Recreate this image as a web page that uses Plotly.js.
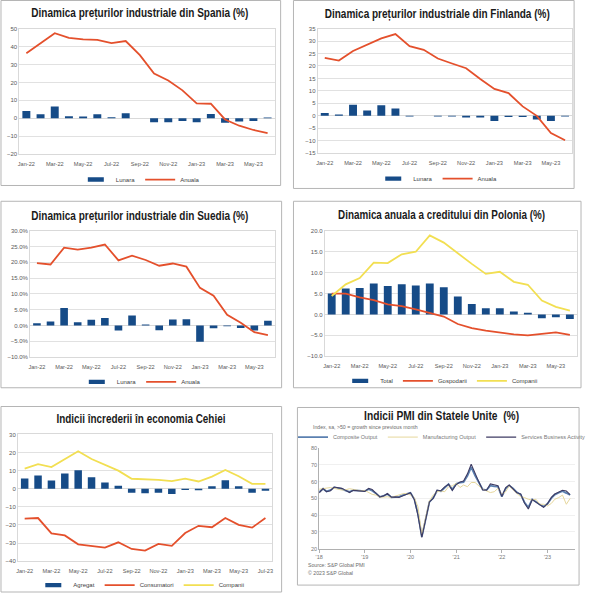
<!DOCTYPE html>
<html>
<head>
<meta charset="utf-8">
<script src="https://cdn.plot.ly/plotly-3.0.1.min.js"></script>
<style>
  html, body { margin: 0; padding: 0; background: #fff; }
  #chart { width: 590px; height: 600px; }
</style>
</head>
<body>
<div id="chart"></div>
<script>
// months for the first four panels
var months = ['Jan-22','Feb-22','Mar-22','Apr-22','May-22','Jun-22','Jul-22','Aug-22','Sep-22',
              'Oct-22','Nov-22','Dec-22','Jan-23','Feb-23','Mar-23','Apr-23','May-23','Jun-23'];
var monthsCz = ['Jan-22','Feb-22','Mar-22','Apr-22','May-22','Jun-22','Jul-22','Aug-22','Sep-22',
                'Oct-22','Nov-22','Dec-22','Jan-23','Feb-23','Mar-23','Apr-23','May-23','Jun-23','Jul-23'];

// Spania
var spainMonthly = [4.0, 2.2, 6.6, 1.1, 0.9, 2.2, 0.5, 2.8, 0.0, -2.2, -2.2, -1.5, -2.2, 2.4, -2.6, -1.8, -1.5, 0.4];
var spainAnnual  = [36.4, 41.9, 47.6, 45.0, 44.1, 43.9, 42.1, 43.2, 35.3, 25.0, 21.1, 15.6, 8.3, 8.1, -0.7, -4.2, -6.6, -8.3];

// Finlanda
var finlandMonthly = [1.1, 0.5, 4.5, 2.1, 4.2, 2.9, -0.3, 0.0, -0.3, -0.3, -0.7, -0.7, -2.1, -0.5, -0.5, -1.5, -2.1, -0.3];
var finlandAnnual  = [23.3, 22.2, 26.0, 28.7, 31.1, 32.8, 28.0, 26.5, 23.0, 21.0, 19.1, 14.8, 10.8, 9.1, 3.8, 0.0, -6.9, -9.8];

// Suedia (%)
var swedenMonthly = [0.7, 1.25, 5.5, 1.0, 1.8, 2.4, -1.6, 3.2, 0.3, -1.5, 1.9, 2.0, -5.1, -0.9, -0.2, -0.8, -1.6, 1.5];
var swedenAnnual  = [19.7, 19.3, 24.6, 24.0, 24.6, 25.6, 20.6, 22.1, 20.7, 18.9, 19.6, 18.6, 11.9, 9.4, 3.4, 0.9, -2.1, -3.0];

// Polonia
var polandTotal      = [5.0, 6.2, 6.3, 7.4, 6.8, 7.2, 6.9, 7.4, 6.5, 4.3, 2.5, 1.5, 1.5, 0.7, 0.4, -0.9, -0.7, -1.1];
var polandHouseholds = [5.0, 5.0, 4.1, 3.4, 2.4, 2.0, 1.2, 0.4, -0.5, -2.3, -3.3, -3.9, -4.4, -4.8, -5.0, -4.7, -4.3, -4.9];
var polandCompanies  = [4.4, 7.2, 8.7, 12.4, 12.3, 14.4, 15.0, 18.9, 17.2, 14.6, 12.1, 9.7, 10.2, 7.8, 7.1, 3.3, 1.8, 0.9];

// Cehia
var czechAggregate = [5.6, 7.3, 4.5, 8.4, 10.2, 6.4, 3.5, 1.6, -2.2, -2.5, -2.2, -2.9, -0.7, -0.9, 1.3, 4.7, 1.3, -2.2, -1.1];
var czechConsumers = [-16.5, -16.2, -24.7, -25.8, -30.7, -31.5, -32.5, -29.6, -33.3, -34.2, -30.5, -31.6, -24.5, -20.5, -21.3, -16.2, -20.0, -21.5, -16.2];
var czechCompanies = [11.1, 13.6, 12.0, 16.4, 20.7, 16.4, 13.1, 10.0, 5.5, 5.3, 4.9, 4.2, 5.6, 4.0, 6.7, 10.4, 6.9, 2.7, 2.7];

// PMI Statele Unite
var pmiMonths = [
  '2018-01','2018-02','2018-03','2018-04','2018-05','2018-06','2018-07','2018-08','2018-09','2018-10','2018-11','2018-12',
  '2019-01','2019-02','2019-03','2019-04','2019-05','2019-06','2019-07','2019-08','2019-09','2019-10','2019-11','2019-12',
  '2020-01','2020-02','2020-03','2020-04','2020-05','2020-06','2020-07','2020-08','2020-09','2020-10','2020-11','2020-12',
  '2021-01','2021-02','2021-03','2021-04','2021-05','2021-06','2021-07','2021-08','2021-09','2021-10','2021-11','2021-12',
  '2022-01','2022-02','2022-03','2022-04','2022-05','2022-06','2022-07','2022-08','2022-09','2022-10','2022-11','2022-12',
  '2023-01','2023-02','2023-03','2023-04','2023-05','2023-06','2023-07'];
var pmiComposite = [
  53.8, 55.8, 54.2, 54.9, 56.6, 56.2, 55.7, 54.7, 53.9, 54.9, 54.7, 54.4,
  54.4, 55.5, 54.6, 53.0, 50.9, 51.5, 52.6, 50.7, 51.0, 50.9, 52.0, 52.7,
  53.3, 49.6, 40.9, 27.0, 37.0, 47.9, 50.3, 54.6, 54.3, 56.3, 58.6, 55.3,
  58.7, 59.5, 59.7, 63.5, 68.7, 63.7, 59.9, 55.4, 55.0, 57.6, 57.2, 57.0,
  51.1, 55.9, 57.7, 56.0, 53.6, 52.3, 47.7, 44.6, 49.5, 48.2, 46.4, 45.0,
  46.8, 50.1, 52.3, 53.4, 54.3, 53.2, 52.0];
var pmiManufacturing = [
  55.5, 56.0, 56.2, 56.5, 56.0, 55.4, 55.0, 55.2, 55.8, 55.4, 55.0, 54.5,
  54.8, 53.5, 52.4, 52.0, 50.8, 50.8, 51.0, 50.6, 51.5, 52.0, 52.8, 53.0,
  52.0, 50.5, 45.0, 28.5, 37.5, 48.5, 52.0, 54.0, 54.5, 54.0, 57.0, 57.5,
  59.0, 56.5, 58.0, 57.0, 59.5, 59.5, 57.5, 55.5, 54.5, 53.5, 54.0, 56.0,
  52.5, 54.0, 57.5, 55.0, 53.0, 51.0, 50.5, 49.5, 49.0, 49.5, 46.5, 46.5,
  45.5, 47.0, 49.5, 50.5, 52.0, 46.5, 50.0];
var pmiServices = [
  53.3, 55.9, 54.0, 54.6, 56.8, 56.5, 56.0, 54.8, 53.5, 54.8, 54.7, 54.4,
  54.2, 56.0, 55.3, 53.0, 50.9, 51.5, 53.0, 50.7, 50.9, 50.6, 51.6, 52.8,
  53.4, 49.4, 39.8, 26.7, 37.5, 47.9, 50.0, 55.0, 54.6, 56.9, 58.4, 54.8,
  58.3, 59.8, 60.4, 64.7, 70.4, 64.6, 59.9, 55.1, 54.9, 58.7, 58.0, 57.6,
  51.2, 56.5, 58.0, 55.6, 53.4, 52.7, 47.3, 43.7, 49.3, 47.8, 46.2, 44.7,
  46.8, 50.6, 52.6, 53.6, 54.9, 54.4, 52.3];

var W = 590, H = 600;
function px(x) { return x / W; }
function py(y) { return 1 - y / H; }
function positions(labels) { return labels.map(function (m, i) { return i; }); }

var BLUE = '#164b87', RED = '#e4502c', YELLOW = '#f2df52';
var FONT = 'Liberation Sans, Arial, sans-serif';
var TITLE_FONT = {family: 'Liberation Sans, Arial, sans-serif', weight: 'bold', size: 13, color: '#1a1a1a'};
// the reference titles are set in a tight condensed face: squeeze to these widths
var titleWidths = [217, 225, 217, 207, 169, 155];

// month axis: one slot per month, a label every second month
function monthX(labels, left, right, anchor) {
  var pos = positions(labels);
  return {
    type: 'linear', domain: [px(left), px(right)], range: [-0.5, labels.length - 0.5], anchor: anchor,
    tickmode: 'array',
    tickvals: pos.filter(function (p) { return p % 2 === 0; }),
    ticktext: labels.filter(function (m, i) { return i % 2 === 0; }),
    ticks: '', ticklabelstandoff: 4, showgrid: false, zeroline: false,
    showline: true, mirror: true, linecolor: '#d9d9d9', linewidth: 1,
    tickfont: {family: FONT, size: 5.6, color: '#595959'}, fixedrange: true
  };
}
function valY(top, bottom, r, dt, extra) {
  var a = {
    domain: [py(bottom), py(top)], range: r, dtick: dt, tick0: r[0],
    showgrid: true, gridcolor: '#d9d9d9', gridwidth: 0.8,
    zeroline: true, zerolinecolor: '#d9d9d9', zerolinewidth: 1,
    showline: true, mirror: true, linecolor: '#d9d9d9', linewidth: 1,
    ticks: '', tickfont: {family: FONT, size: 6, color: '#595959'}, fixedrange: true
  };
  for (var k in extra) a[k] = extra[k];
  return a;
}
function leg(cx, cy) {
  return {
    x: px(cx), y: py(cy), xanchor: 'center', yanchor: 'middle', orientation: 'h',
    font: {family: FONT, size: 6, color: '#404040'}, bgcolor: 'rgba(0,0,0,0)',
    itemwidth: 30, tracegroupgap: 0
  };
}
function bar(labels, y, name, n) {
  return {type: 'bar', x: positions(labels), y: y, name: name, marker: {color: BLUE},
          xaxis: 'x' + n, yaxis: 'y' + n, legend: 'legend' + n, hoverinfo: 'skip'};
}
function line(x, y, name, color, n, w) {
  return {type: 'scatter', mode: 'lines', x: x, y: y, name: name,
          line: {color: color, width: w || 1.8},
          xaxis: 'x' + n, yaxis: 'y' + n, legend: 'legend' + n, hoverinfo: 'skip'};
}

var data = [
  bar(months, spainMonthly, 'Lunara', ''),
  line(positions(months), spainAnnual, 'Anuala', RED, ''),
  bar(months, finlandMonthly, 'Lunara', 2),
  line(positions(months), finlandAnnual, 'Anuala', RED, 2),
  bar(months, swedenMonthly, 'Lunara', 3),
  line(positions(months), swedenAnnual, 'Anuala', RED, 3),
  bar(months, polandTotal, 'Total', 4),
  line(positions(months), polandHouseholds, 'Gospodarii', RED, 4),
  line(positions(months), polandCompanies, 'Companii', YELLOW, 4),
  bar(monthsCz, czechAggregate, 'Agregat', 5),
  line(positions(monthsCz), czechConsumers, 'Consumatori', RED, 5),
  line(positions(monthsCz), czechCompanies, 'Companii', YELLOW, 5),
  line(pmiMonths, pmiComposite, 'Composite Output', '#5b80b0', 6, 1.8),
  line(pmiMonths, pmiManufacturing, 'Manufacturing Output', '#e6d79c', 6, 1),
  line(pmiMonths, pmiServices, 'Services Business Activity', '#3e3b63', 6, 1.1)
];
// first panel uses the default axis / legend names
data[0].xaxis = 'x'; data[0].yaxis = 'y'; data[0].legend = 'legend';
data[1].xaxis = 'x'; data[1].yaxis = 'y'; data[1].legend = 'legend';

function box(x0, y0, x1, y1) {
  return {type: 'rect', xref: 'paper', yref: 'paper', x0: px(x0), x1: px(x1), y0: py(y1), y1: py(y0),
          line: {color: '#b5b5b5', width: 1}, layer: 'below'};
}
function title(text, cx, cy) {
  return {xref: 'paper', yref: 'paper', x: px(cx), y: py(cy), xanchor: 'center', yanchor: 'middle',
          text: text, showarrow: false, font: TITLE_FONT};
}
function note(text, x, y, size) {
  return {xref: 'paper', yref: 'paper', x: px(x), y: py(y), xanchor: 'left', yanchor: 'middle',
          text: text, showarrow: false, font: {family: FONT, size: size, color: '#6b6b6b'}};
}

var layout = {
  width: W, height: 600, margin: {l: 0, r: 0, t: 0, b: 0},
  paper_bgcolor: '#fff', plot_bgcolor: '#fff',
  font: {family: FONT},
  bargap: 0.44,
  xaxis: monthX(months, 19.5, 278, 'y'),
  yaxis: valY(29.3, 156, [-20, 50], 10, {anchor: 'x'}),
  xaxis2: monthX(months, 321.5, 579, 'y2'),
  yaxis2: valY(29, 155.3, [-15, 35], 5, {anchor: 'x2'}),
  xaxis3: monthX(months, 30.5, 278, 'y3'),
  yaxis3: valY(233.7, 362, [-10, 30], 5, {anchor: 'x3', tickformat: '.1f', ticksuffix: '%'}),
  xaxis4: monthX(months, 328.6, 583.8, 'y4'),
  yaxis4: valY(234, 361, [-10, 20], 5, {anchor: 'x4', tickformat: '.1f'}),
  xaxis5: monthX(monthsCz, 18.2, 275.4, 'y5'),
  yaxis5: valY(440.3, 568.7, [-40, 30], 10, {anchor: 'x5'}),
  xaxis6: {
    type: 'date', domain: [px(323), px(582)], range: ['2018-01-01', '2023-08-10'],
    tickformat: "'%y", dtick: 'M12', tick0: '2018-01-01', ticks: 'outside', ticklen: 3,
    tickcolor: '#b0b0b0', showgrid: false, showline: true, linecolor: '#b0b0b0', linewidth: 1,
    tickfont: {family: FONT, size: 5.5, color: '#777'}, anchor: 'y6', fixedrange: true
  },
  yaxis6: {
    domain: [py(556), py(454.3)], range: [20, 80], dtick: 10, anchor: 'x6',
    showgrid: true, gridcolor: '#ececec', gridwidth: 0.8, zeroline: false,
    showline: true, linecolor: '#b0b0b0', linewidth: 1, ticks: '',
    tickfont: {family: FONT, size: 5.5, color: '#777'}, fixedrange: true
  },
  legend: leg(142, 182),
  legend2: leg(443, 181),
  legend3: leg(143, 387),
  legend4: leg(447, 386),
  legend5: leg(143, 593),
  legend6: (function () { var l = leg(447, 443); l.font = {family: FONT, size: 5.5, color: '#777'}; return l; })(),
  shapes: [
    box(1, 0.5, 284, 188),
    box(297, 0.5, 581, 191),
    box(1, 204, 285, 393),
    box(297, 204, 588, 393),
    box(1, 412, 285, 600),
    box(301, 413, 586, 593)
  ],
  annotations: [
    title('Dinamica prețurilor industriale din Spania (%)', 142, 13),
    title('Dinamica prețurilor industriale din Finlanda (%)', 443, 14),
    title('Dinamica prețurilor industriale din Suedia (%)', 142, 218),
    title('Dinamica anuala a creditului din Polonia (%)', 447, 217),
    title('Indicii încrederii în economia Cehiei', 143, 424),
    title('Indicii PMI din Statele Unite  (%)', 447, 421),
    note('Index, sa, >50 = growth since previous month', 315, 433, 5.2),
    note('Source: S&P Global PMI', 310, 573, 5.2),
    note('© 2023 S&P Global', 310, 581, 5.2)
  ],
  showlegend: true
};

function touchUp(gd) {
  var texts = gd.querySelectorAll('.annotation-text');
  for (var i = 0; i < titleWidths.length && i < texts.length; i++) {
    texts[i].setAttribute('textLength', titleWidths[i]);
    texts[i].setAttribute('lengthAdjust', 'spacingAndGlyphs');
  }
  // Excel-style flat bar keys in the legends
  gd.querySelectorAll('.legendpoints path').forEach(function (p) {
    if (p.getAttribute('d') === 'M6,6H-6V-6H6Z') p.setAttribute('d', 'M8,2.2H-8V-2.2H8Z');
  });
}

Plotly.newPlot('chart', data, layout, {staticPlot: true, displayModeBar: false}).then(function (gd) {
  touchUp(gd);
  setTimeout(function () { touchUp(gd); }, 50);
});
</script>
</body>
</html>
